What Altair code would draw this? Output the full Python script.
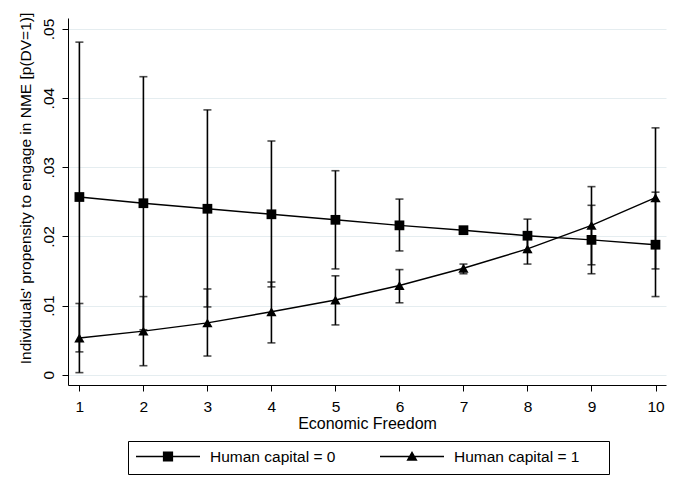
import altair as alt
import pandas as pd

econ_freedom = [1, 2, 3, 4, 5, 6, 7, 8, 9, 10]
hc0_mean = [0.0257, 0.0248, 0.0240, 0.0232, 0.0224, 0.0216, 0.0209, 0.0201, 0.0195, 0.0188]
hc0_lo = [0.0033, 0.0065, 0.0098, 0.0127, 0.0153, 0.0179, 0.0206, 0.0177, 0.0146, 0.0113]
hc0_hi = [0.0481, 0.0431, 0.0383, 0.0338, 0.0295, 0.0254, 0.0212, 0.0225, 0.0245, 0.0264]
hc1_mean = [0.0053, 0.0063, 0.0075, 0.0091, 0.0108, 0.0129, 0.0154, 0.0182, 0.0216, 0.0256]
hc1_lo = [0.0003, 0.0013, 0.0027, 0.0046, 0.0072, 0.0104, 0.0146, 0.0160, 0.0159, 0.0153]
hc1_hi = [0.0103, 0.0113, 0.0124, 0.0134, 0.0143, 0.0152, 0.0160, 0.0204, 0.0272, 0.0357]
groups = ["Human capital = 0", "Human capital = 1"]
y_ticks = [0, 0.01, 0.02, 0.03, 0.04, 0.05]

rows = []
for g, m, lo, hi in [(groups[0], hc0_mean, hc0_lo, hc0_hi), (groups[1], hc1_mean, hc1_lo, hc1_hi)]:
    for x, a, b, c in zip(econ_freedom, m, lo, hi):
        rows.append({"x": x, "group": g, "mean": a, "lo": b, "hi": c})
df = pd.DataFrame(rows)

FONT = "Liberation Sans"
FS = 15.5

xscale = alt.Scale(domain=[0.822, 10.164], nice=False, zero=False)
yscale = alt.Scale(domain=[-0.00149, 0.05159], nice=False, zero=False)

xaxis = alt.Axis(values=econ_freedom, title="Economic Freedom", grid=False,
                 tickSize=6, labelPadding=8, titlePadding=1, format="d", titleFontSize=16)
yaxis = alt.Axis(values=y_ticks, title="Individuals' propensity to engage in NME [p(DV=1)]",
                 grid=True, gridColor="#e5edf0", gridWidth=1,
                 tickSize=6, labelAngle=270, labelAlign="center", labelBaseline="bottom",
                 labelPadding=6, titleX=-35, titleY=170, titleAngle=270,
                 titleAlign="center", titleBaseline="bottom",
                 labelExpr="datum.value == 0 ? '0' : replace(format(datum.value, '.2f'), '0.', '.')")

base = alt.Chart(df)

X = alt.X("x:Q", scale=xscale, axis=xaxis)

rules = base.mark_rule(color="black", strokeWidth=1.6).encode(
    x=X, y=alt.Y("lo:Q", scale=yscale, axis=yaxis), y2="hi:Q")
cap_lo = base.mark_tick(color="black", orient="horizontal", size=8, thickness=1.6).encode(
    x=X, y=alt.Y("lo:Q", scale=yscale))
cap_hi = base.mark_tick(color="black", orient="horizontal", size=8, thickness=1.6).encode(
    x=X, y=alt.Y("hi:Q", scale=yscale))
lines = base.mark_line(color="black", strokeWidth=1.4).encode(
    x=X, y=alt.Y("mean:Q", scale=yscale), detail="group:N")

pts0 = base.transform_filter(alt.datum.group == groups[0]).mark_point(
    filled=True, color="black", size=95, opacity=1, shape="square").encode(
    x=X, y=alt.Y("mean:Q", scale=yscale))
pts1 = base.transform_filter(alt.datum.group == groups[1]).mark_point(
    filled=True, color="black", size=105, opacity=1, shape="triangle-up").encode(
    x=X, y=alt.Y("mean:Q", scale=yscale))

# legend key: a thin filled bar (the line) plus the marker, in unit symbol space
sq_path = "M-1,-0.023H1V0.023H-1Z M-0.16,-0.16H0.16V0.16H-0.16Z"
tri_path = "M-1,-0.023H1V0.023H-1Z M0,-0.17L0.175,0.13L-0.175,0.13Z"

legend = alt.Legend(
    title="\u2002", titleOrient="right", titlePadding=22, titleFontSize=FS,
    orient="none", legendX=60, legendY=423, direction="horizontal",
    symbolSize=4096, labelFontSize=FS, labelFont=FONT, labelColor="black",
    labelOffset=10, columnPadding=44, padding=8, strokeColor="black",
    clipHeight=15,
    symbolStrokeWidth=0, symbolFillColor="black", symbolStrokeColor="black",
    symbolOpacity=1,
)

legend_layer = base.transform_filter("false").mark_point(
    filled=True, color="black", fillOpacity=1,
    strokeWidth=0, size=4096, opacity=1).encode(
    x=X, y=alt.Y("mean:Q", scale=yscale),
    shape=alt.Shape("group:N", scale=alt.Scale(domain=groups, range=[sq_path, tri_path]),
                    legend=legend))

chart = alt.layer(rules, cap_lo, cap_hi, lines, pts0, pts1, legend_layer).properties(
    width=598, height=367,
    autosize=alt.AutoSizeParams(type="none"),
    padding={"left": 60, "top": 10, "right": 11, "bottom": 105},
    background="white",
).configure_view(stroke=None).configure_axis(
    domainColor="black", domainWidth=1, tickColor="black", tickWidth=1,
    labelFont=FONT, labelFontSize=FS, labelColor="black",
    titleFont=FONT, titleFontSize=FS, titleColor="black", titleFontWeight="normal",
)

chart.save("out.html", embed_options={"renderer": "svg", "actions": False})
